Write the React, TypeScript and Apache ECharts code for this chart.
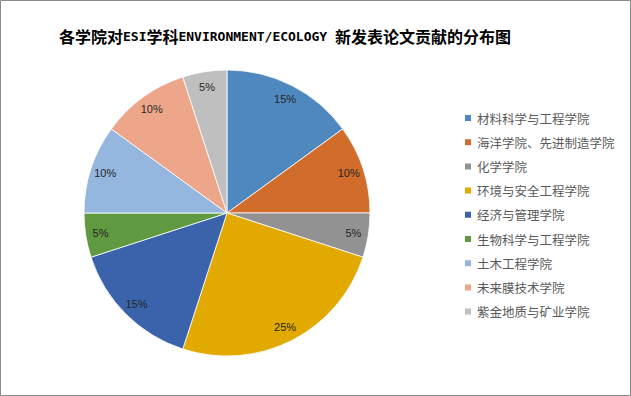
import React, { useEffect, useRef } from "react";
import * as echarts from "echarts";

const titleParts: [string, string][] = [
  ["c", "各学院对"],
  ["l", "ESI"],
  ["c", "学科"],
  ["l", "ENVIRONMENT/ECOLOGY "],
  ["c", "新发表论文贡献的分布图"],
];
const categories = [
  "材料科学与工程学院",
  "海洋学院、先进制造学院",
  "化学学院",
  "环境与安全工程学院",
  "经济与管理学院",
  "生物科学与工程学院",
  "土木工程学院",
  "未来膜技术学院",
  "紫金地质与矿业学院",
];
const values = [15, 10, 5, 25, 15, 5, 10, 10, 5];
const colors = [
  "#4F88BE",
  "#D26C2B",
  "#929292",
  "#E2A900",
  "#3B63AC",
  "#5F9A40",
  "#94B6DF",
  "#EEA68A",
  "#BFBFBF",
];

export default function App() {
  const ref = useRef<HTMLDivElement>(null);
  useEffect(() => {
    if (!ref.current) return;
    const chart = echarts.init(ref.current, null, { renderer: "svg" });
    const data = categories.map((name, i) => ({
      name,
      value: values[i],
      itemStyle: { color: colors[i] },
    }));
    const total = values.reduce((a, b) => a + b, 0);
    chart.setOption({
      animation: false,
      backgroundColor: "#ffffff",
      title: {
        text: titleParts.map(([k, t]) => `{${k}|${t}}`).join(""),
        left: 54,
        top: 21,
        textStyle: {
          rich: {
            c: {
              fontFamily: "'Noto Sans CJK SC', sans-serif",
              fontSize: 16,
              fontWeight: "bold",
              color: "#000000",
              lineHeight: 20,
            },
            l: {
              fontFamily: "'DejaVu Sans Mono', 'Liberation Mono', monospace",
              fontSize: 13,
              fontWeight: "bold",
              color: "#000000",
              lineHeight: 20,
            },
          },
        },
      },
      graphic: [
        {
          type: "rect",
          shape: { x: 0.5, y: 0.5, width: 630, height: 395 },
          style: { fill: "none", stroke: "#8a8a8a", lineWidth: 1 },
          silent: true,
        },
      ],
      legend: {
        orient: "vertical",
        left: 458,
        top: 105,
        itemWidth: 8,
        itemHeight: 8,
        itemGap: 8.2,
        icon: "rect",
        data: categories,
        textStyle: {
          fontFamily: "'Noto Sans CJK SC', sans-serif",
          fontSize: 12.5,
          lineHeight: 16,
          color: "#595959",
        },
      },
      series: [
        {
          type: "pie",
          center: [227, 213],
          radius: [0, 143],
          startAngle: 90,
          clockwise: true,
          data,
          label: { show: false },
          labelLine: { show: false },
          itemStyle: { borderColor: "#ffffff", borderWidth: 0.8 },
          emphasis: { disabled: true },
          silent: true,
        },
        {
          type: "pie",
          center: [227, 213],
          radius: [0, 250],
          startAngle: 90,
          clockwise: true,
          data: categories.map((name, i) => ({ name, value: values[i] })),
          itemStyle: { color: "rgba(0,0,0,0)", borderWidth: 0 },
          label: {
            show: true,
            position: "inside",
            formatter: (p: any) => Math.round((p.value / total) * 100) + "%",
            fontFamily: "'Liberation Sans', Arial, sans-serif",
            fontSize: 11,
            color: "#262626",
          },
          labelLine: { show: false },
          emphasis: { disabled: true },
          silent: true,
        },
      ],
    });
    return () => chart.dispose();
  }, []);
  return (
    <div
      ref={ref}
      style={{ position: "fixed", left: 0, top: 0, width: 631, height: 396 }}
    />
  );
}
